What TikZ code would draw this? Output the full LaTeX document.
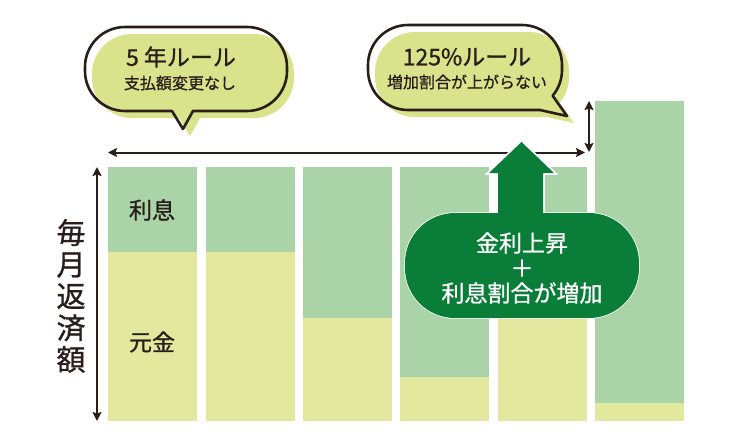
\documentclass[tikz,border=0pt]{standalone}
\usepackage{fontspec}
\newfontfamily\jp{Noto Sans CJK JP}[FakeBold=0.9]
\usetikzlibrary{arrows.meta}
\definecolor{barint}{HTML}{AAD4A8}
\definecolor{barprin}{HTML}{E2E89D}
\definecolor{bubgreen}{HTML}{D8E38B}
\definecolor{dkgreen}{HTML}{0A7D38}
\definecolor{ink}{HTML}{2A1E1B}
\tikzset{
  intbar/.style={fill=barint},
  prinbar/.style={fill=barprin},
  outline/.style={draw=ink, line width=2.6pt, line join=round},
  dimarrow/.style={draw=ink, line width=2pt, {Stealth[length=9pt,width=9pt,inset=1.5pt]}-{Stealth[length=9pt,width=9pt,inset=1.5pt]}},
  jtext/.style={text=ink, inner sep=0pt, align=center},
}
\def\bubA{(172,111) -- (125,111) arc[start angle=90, end angle=180, radius=40] -- (85,67) arc[start angle=180, end angle=270, radius=40] -- (247,27) arc[start angle=270, end angle=360, radius=40] -- (287,71) arc[start angle=0, end angle=90, radius=40] -- (193,111) -- (183,129) -- cycle}
\def\bubB{(540,110) -- (408,110) arc[start angle=90, end angle=180, radius=40] -- (368,65) arc[start angle=180, end angle=270, radius=40] -- (522,25) arc[start angle=270, end angle=360, radius=40] -- (562,70) arc[start angle=0, end angle=40, radius=40] -- (567,116) -- cycle}
\def\uparr{(498,222) -- (498,173) -- (489,173) -- (521.5,142) -- (554,173) -- (543,173) -- (543,222) -- cycle}
\begin{document}
\begin{tikzpicture}[x=1pt, y=-1pt]
\useasboundingbox (0,0) rectangle (750,445);
% bars
\fill[intbar] (108,167) rectangle (197,252);
\fill[prinbar] (108,252) rectangle (197,421);
\fill[intbar] (205.5,167) rectangle (294.5,252);
\fill[prinbar] (205.5,252) rectangle (294.5,421);
\fill[intbar] (303,167) rectangle (392,318);
\fill[prinbar] (303,318) rectangle (392,421);
\fill[intbar] (400,167) rectangle (489,377);
\fill[prinbar] (400,377) rectangle (489,421);
\fill[intbar] (497.5,167) rectangle (586.5,305);
\fill[prinbar] (497.5,305) rectangle (586.5,421);
\fill[intbar] (595,101) rectangle (684,403);
\fill[prinbar] (595,403) rectangle (684,421);
% bar labels
\node[jtext, font=\jp\fontsize{23}{25}\selectfont] (rishi) at (152,210) {利息};
\node[jtext, font=\jp\fontsize{23}{25}\selectfont] (gankin) at (152,342) {元金};
% vertical label
\node[jtext, font=\jp\fontsize{29}{31.7}\selectfont] (hensai) at (71,296) {毎\\月\\返\\済\\額};
% dimension arrows
\coordinate (vtop) at (97,167);
\coordinate (vbot) at (97,421);
\draw[dimarrow] (vtop) -- (vbot);
\coordinate (hl) at (108,152.5);
\coordinate (hr) at (585,152.5);
\draw[dimarrow] (hl) -- (hr);
\coordinate (st) at (589,101);
\coordinate (sb) at (589,152);
\draw[dimarrow] (st) -- (sb);
% speech bubbles
\fill[bubgreen, shift={(7,7)}] \bubA;
\draw[outline] \bubA;
\fill[bubgreen, shift={(7,7)}] \bubB;
\draw[outline] \bubB;
\node[jtext, font=\jp\fontsize{23}{25}\selectfont] (r5) at (181,57) {5 年ルール};
\node[jtext, font=\jp\fontsize{16}{18}\selectfont] (r5b) at (180,83) {支払額変更なし};
\node[jtext, font=\jp\fontsize{23}{25}\selectfont] (r125) at (467,57) {125\%ルール};
\node[jtext, font=\jp\fontsize{16}{18}\selectfont] (r125b) at (467,82) {増加割合が上がらない};
% green arrow and callout
\draw[white, line width=3.5pt, line join=miter] \uparr;
\draw[white, line width=1.5pt, rounded corners=50pt] (405,213) rectangle (639,318);
\fill[dkgreen] \uparr;
\fill[dkgreen, rounded corners=50pt] (405,213) rectangle (639,318);
\node[inner sep=0pt, text=white, align=center, font=\jp\fontsize{23}{25}\selectfont] (kinri) at (522,268) {金利上昇\\＋\\利息割合が増加};
\end{tikzpicture}
\end{document}
